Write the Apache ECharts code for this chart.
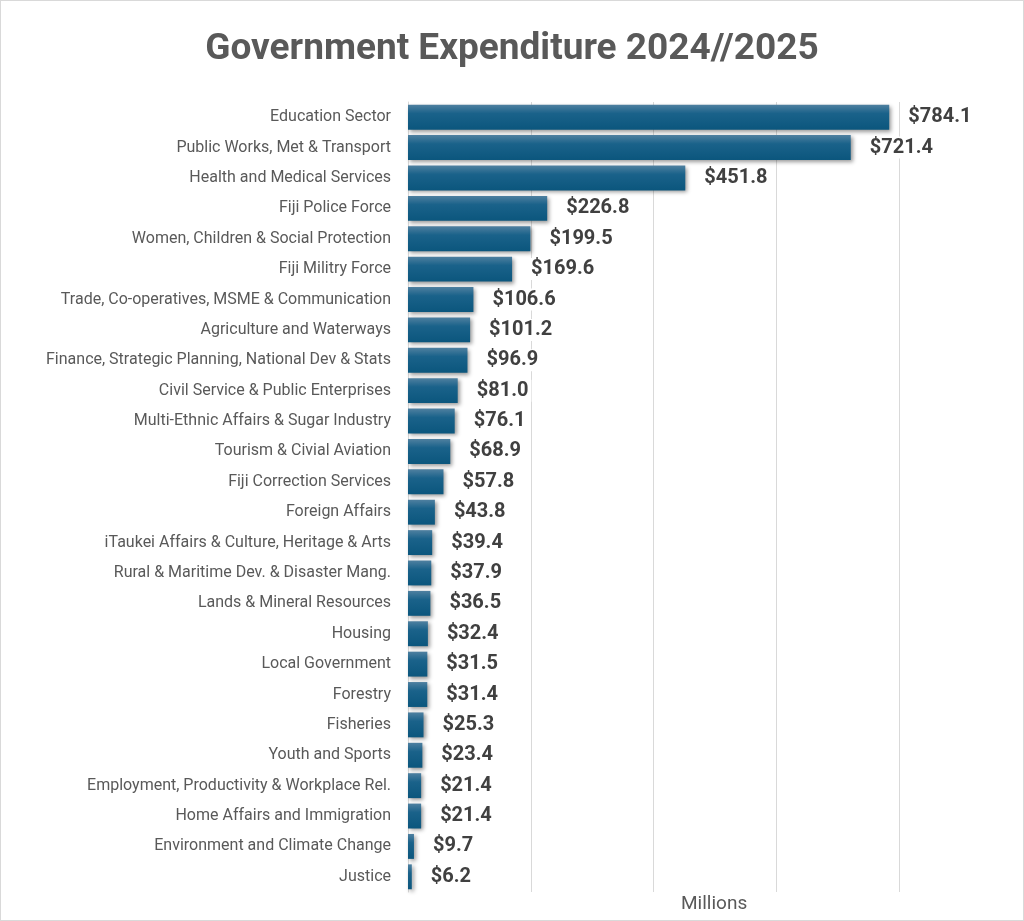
<!DOCTYPE html>
<html>
<head>
<meta charset="utf-8">
<script src="https://cdn.jsdelivr.net/npm/echarts@6/dist/echarts.min.js"></script>
<style>
  html, body { margin: 0; padding: 0; background: #fff; }
  #chart { width: 1024px; height: 921px; box-sizing: border-box; border: 1px solid #d9d9d9; }
</style>
</head>
<body>
<div id="chart"></div>
<script>
// 分类
var categories = [
	'Education Sector',
	'Public Works, Met & Transport',
	'Health and Medical Services',
	'Fiji Police Force',
	'Women, Children & Social Protection',
	'Fiji Militry Force',
	'Trade, Co-operatives, MSME & Communication',
	'Agriculture and Waterways',
	'Finance, Strategic Planning, National Dev & Stats',
	'Civil Service & Public Enterprises',
	'Multi-Ethnic Affairs & Sugar Industry',
	'Tourism & Civial Aviation',
	'Fiji Correction Services',
	'Foreign Affairs',
	'iTaukei Affairs & Culture, Heritage & Arts',
	'Rural & Maritime Dev. & Disaster Mang.',
	'Lands & Mineral Resources',
	'Housing',
	'Local Government',
	'Forestry',
	'Fisheries',
	'Youth and Sports',
	'Employment, Productivity & Workplace Rel.',
	'Home Affairs and Immigration',
	'Environment and Climate Change',
	'Justice'
];

// 支出 (百万)
var expenditure = [
	784.1, 721.4, 451.8, 226.8, 199.5, 169.6, 106.6, 101.2, 96.9, 81.0,
	76.1, 68.9, 57.8, 43.8, 39.4, 37.9, 36.5, 32.4, 31.5, 31.4,
	25.3, 23.4, 21.4, 21.4, 9.7, 6.2
];

var axisMin = 0;
var axisMax = 800;
var axisStep = 200;

var myChart = echarts.init(document.getElementById('chart'));

var barColor = new echarts.graphic.LinearGradient(0, 0, 0, 1, [
	{ offset: 0, color: '#4f80a0' },
	{ offset: 0.35, color: '#1a628a' },
	{ offset: 1, color: '#0b567d' }
]);

var option = {
	animation : false,
	title : {
		text : 'Government Expenditure 2024//2025',
		left : 'center',
		top : 25,
		textStyle : {
			fontFamily : 'Roboto',
			fontSize : 37,
			fontWeight : 'bold',
			color : '#595959'
		}
	},
	grid : {
		left : 407,
		right : 124,
		top : 101,
		bottom : 28
	},
	xAxis : {
		type : 'value',
		min : axisMin,
		max : axisMax,
		interval : axisStep,
		axisLabel : { show : false },
		axisTick : { show : false },
		axisLine : { show : false },
		splitLine : {
			show : true,
			lineStyle : { color : '#d9d9d9', width : 1 }
		}
	},
	yAxis : {
		type : 'category',
		data : categories,
		inverse : true,
		axisTick : { show : false },
		axisLine : {
			show : true,
			lineStyle : { color : '#d9d9d9', width : 1 }
		},
		axisLabel : {
			margin : 17,
			fontFamily : 'Roboto',
			fontSize : 16,
			color : '#595959'
		}
	},
	graphic : [ {
		type : 'text',
		left : 680,
		top : 894,
		style : {
			text : 'Millions',
			fontFamily : 'Roboto',
			fontSize : 19,
			fill : '#595959'
		}
	} ],
	series : [ {
		type : 'bar',
		data : expenditure,
		barCategoryGap : '18%',
		itemStyle : {
			color : barColor,
			shadowColor : 'rgba(0,0,0,0.4)',
			shadowBlur : 4,
			shadowOffsetX : 2,
			shadowOffsetY : 2
		},
		label : {
			show : true,
			position : 'right',
			distance : 16,
			padding : [ 1, 3 ],
			backgroundColor : '#fff',
			fontFamily : 'Roboto',
			fontSize : 20,
			fontWeight : 'bold',
			color : '#404040',
			formatter : function(p) {
				return '$' + p.value.toFixed(1);
			}
		}
	} ]
};

myChart.setOption(option);
</script>
</body>
</html>
